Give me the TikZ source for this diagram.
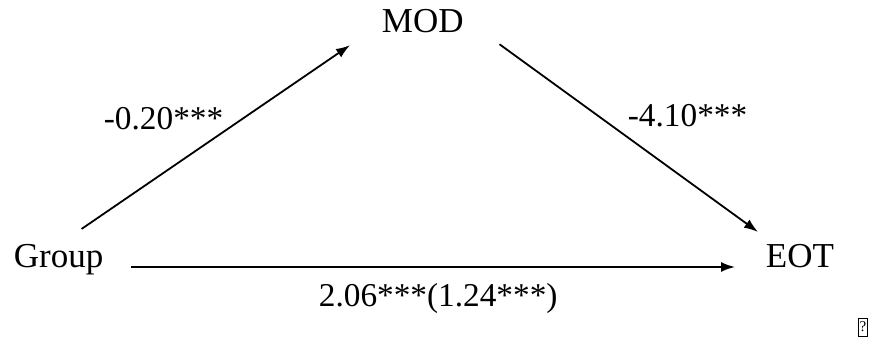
\documentclass[tikz,border=0pt]{standalone}
\usepackage{fontspec}
\setmainfont{Liberation Serif}
\usetikzlibrary{arrows.meta, positioning}

\tikzset{
    var/.style={inner sep=0pt, anchor=base west, font=\fontsize{35}{40}\selectfont},
    coef/.style={inner sep=0pt, anchor=base west, font=\fontsize{33.3}{40}\selectfont},
}

\begin{document}
\begin{tikzpicture}[x=1pt, y=-1pt, >={Latex[length=14pt,width=10pt]}, line width=1.8pt]
        \useasboundingbox (0,0) rectangle (880,344);
        \node[var] (mod) at (381,33) {MOD};
        \node[var] (grp) at (13,268) {Group};
        \node[var] (eot) at (765,268) {EOT};
        \node[coef] (amod) at (103,130) {-0.20***};
        \node[coef] (beot) at (627,127) {-4.10***};
        \node[coef] (ctot) at (318,307) {2.06***(1.24***)};
        \node[draw, line width=0.7pt, inner sep=0pt, minimum width=9pt, minimum height=18pt,
              font=\fontsize{15}{15}\selectfont] (qm) at (863,327) {?};
        \draw[->] ([xshift=23pt, yshift=15pt]grp.north) -- ([xshift=-31pt, yshift=-11pt]mod.south west);
        \draw[->] ([xshift=35pt, yshift=-10pt]mod.south east) -- ([xshift=-7pt, yshift=12pt]eot.north west);
        \draw[->] ([xshift=27pt, yshift=1pt]grp.base east) -- ([xshift=-30pt, yshift=1pt]eot.base west);
    \end{tikzpicture}
\end{document}
